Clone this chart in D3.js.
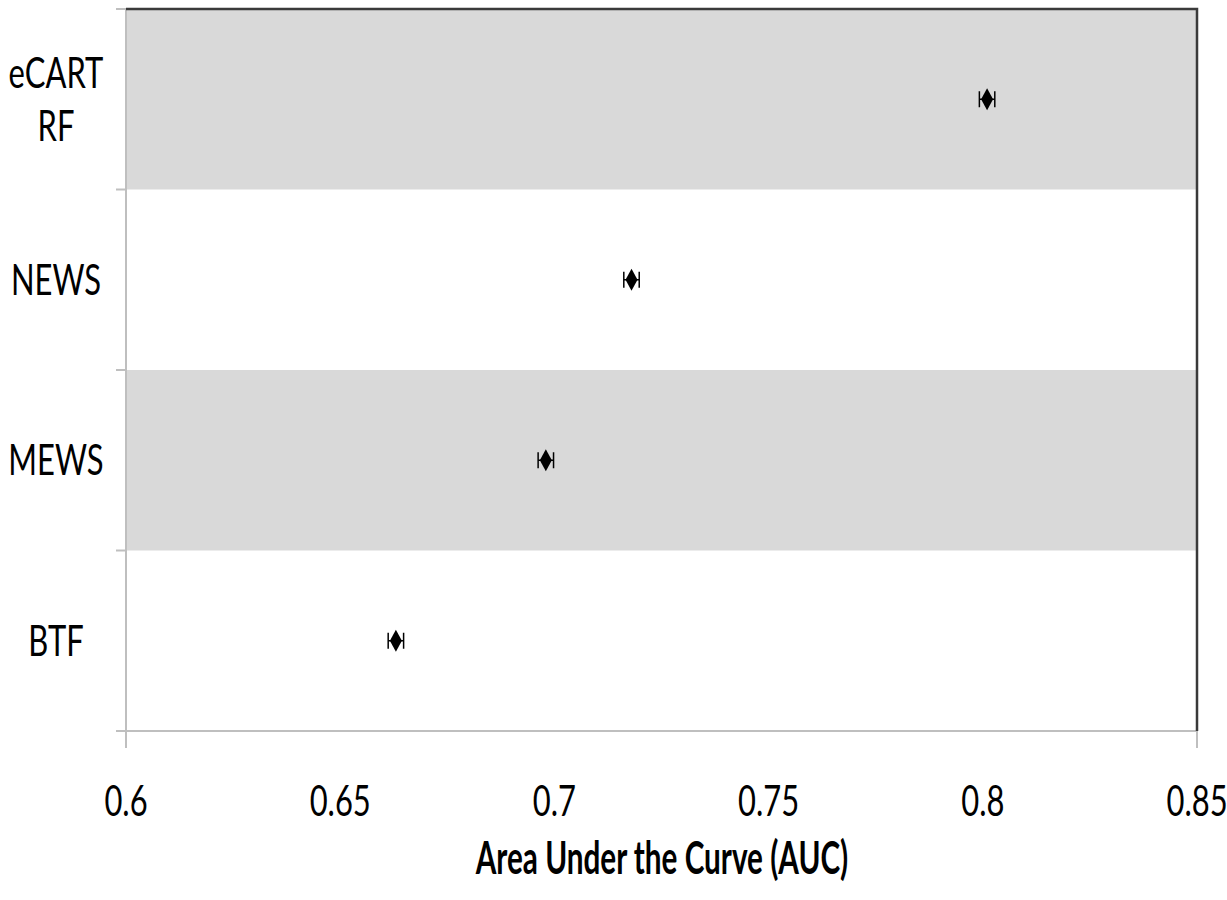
<!DOCTYPE html>
<html>
<head>
<meta charset="utf-8">
<script src="https://cdn.jsdelivr.net/npm/d3@7"></script>
<style>
  body { margin: 0; background: #fff; }
  svg { display: block; }
</style>
</head>
<body>
<svg id="chart" width="1227" height="900"></svg>
<script>
// forest-style plot of AUC per score

const categories = ["eCART RF", "NEWS", "MEWS", "BTF"];
const categoryLines = [["eCART", "RF"], ["NEWS"], ["MEWS"], ["BTF"]];
const auc = [0.801, 0.718, 0.698, 0.663];
const aucLow = [0.7992, 0.7162, 0.6962, 0.6612];
const aucHigh = [0.8028, 0.7198, 0.6998, 0.6648];
const xTicks = [0.6, 0.65, 0.7, 0.75, 0.8, 0.85];
const xTickLabels = ["0.6", "0.65", "0.7", "0.75", "0.8", "0.85"];
const xTitle = "Area Under the Curve (AUC)";

const FONT = "Lato, 'Open Sans', sans-serif";
const BAND_FILL = "#d9d9d9";
const AXIS_COLOR = "#bfbfbf";
const BORDER_COLOR = "#3a3a3a";
const SQUEEZE = 0.72; // source text looks horizontally narrow

const plotLeft = 126, plotRight = 1197, plotTop = 9, plotBottom = 731;

const svg = d3.select("#chart");

const x = d3.scaleLinear().domain([0.6, 0.85]).range([plotLeft, plotRight]);
const y = d3.scaleBand().domain(categories).range([plotTop, plotBottom]);

// alternating grey bands
svg.append("g")
  .selectAll("rect")
  .data(categories)
  .join("rect")
  .attr("x", plotLeft)
  .attr("y", d => y(d))
  .attr("width", plotRight - plotLeft)
  .attr("height", y.bandwidth())
  .attr("fill", (d, i) => i % 2 === 0 ? BAND_FILL : "none");

// left axis with ticks at band edges
const edges = categories.map(d => y(d)).concat([plotBottom]);
svg.append("line")
  .attr("x1", plotLeft).attr("x2", plotLeft)
  .attr("y1", plotTop).attr("y2", plotBottom + 17)
  .attr("stroke", AXIS_COLOR).attr("stroke-width", 2);
svg.append("g")
  .selectAll("line")
  .data(edges)
  .join("line")
  .attr("x1", plotLeft - 10).attr("x2", plotLeft)
  .attr("y1", d => d).attr("y2", d => d)
  .attr("stroke", AXIS_COLOR).attr("stroke-width", 2);

// bottom axis
svg.append("line")
  .attr("x1", plotLeft).attr("x2", plotRight)
  .attr("y1", plotBottom).attr("y2", plotBottom)
  .attr("stroke", AXIS_COLOR).attr("stroke-width", 2);
svg.append("line")
  .attr("x1", plotRight).attr("x2", plotRight)
  .attr("y1", plotBottom).attr("y2", plotBottom + 17)
  .attr("stroke", AXIS_COLOR).attr("stroke-width", 2);

// dark frame top and right
svg.append("path")
  .attr("d", `M${plotLeft},${plotTop}H${plotRight}V${plotBottom}`)
  .attr("fill", "none")
  .attr("stroke", BORDER_COLOR)
  .attr("stroke-width", 2.5);

// tick labels
svg.append("g")
  .selectAll("text")
  .data(xTicks)
  .join("text")
  .attr("transform", d => `translate(${x(d)},${816}) scale(${SQUEEZE},1)`)
  .attr("text-anchor", "middle")
  .attr("font-family", FONT)
  .attr("font-size", 43)
  .attr("fill", "#000")
  .text((d, i) => xTickLabels[i]);

// category labels
const catG = svg.append("g")
  .selectAll("g")
  .data(categories)
  .join("g");
catG.each(function(d, i) {
  const lines = categoryLines[i];
  const cy = y(d) + y.bandwidth() / 2;
  const lh = 53;
  lines.forEach((ln, j) => {
    const ly = cy + (j - (lines.length - 1) / 2) * lh + 15;
    d3.select(this).append("text")
      .attr("transform", `translate(56,${ly}) scale(${SQUEEZE},1)`)
      .attr("text-anchor", "middle")
      .attr("font-family", FONT)
      .attr("font-size", 43)
      .attr("fill", "#000")
      .text(ln);
  });
});

// axis title
svg.append("text")
  .attr("transform", `translate(662,${874}) scale(0.66,1)`)
  .attr("text-anchor", "middle")
  .attr("font-family", FONT)
  .attr("font-weight", "bold")
  .attr("font-size", 45)
  .attr("fill", "#000")
  .text(xTitle);

// error bars and diamonds
const pts = svg.append("g")
  .selectAll("g")
  .data(categories)
  .join("g")
  .attr("transform", d => `translate(0,${y(d) + y.bandwidth() / 2})`);

pts.append("line")
  .attr("x1", (d, i) => x(aucLow[i]))
  .attr("x2", (d, i) => x(aucHigh[i]))
  .attr("stroke", "#000").attr("stroke-width", 1.5);
pts.append("line")
  .attr("x1", (d, i) => x(aucLow[i])).attr("x2", (d, i) => x(aucLow[i]))
  .attr("y1", -8).attr("y2", 8)
  .attr("stroke", "#000").attr("stroke-width", 1.5);
pts.append("line")
  .attr("x1", (d, i) => x(aucHigh[i])).attr("x2", (d, i) => x(aucHigh[i]))
  .attr("y1", -8).attr("y2", 8)
  .attr("stroke", "#000").attr("stroke-width", 1.5);
pts.append("path")
  .attr("transform", (d, i) => `translate(${x(auc[i])},0)`)
  .attr("d", "M0,-11L6,0L0,11L-6,0Z")
  .attr("fill", "#000");
</script>
</body>
</html>
